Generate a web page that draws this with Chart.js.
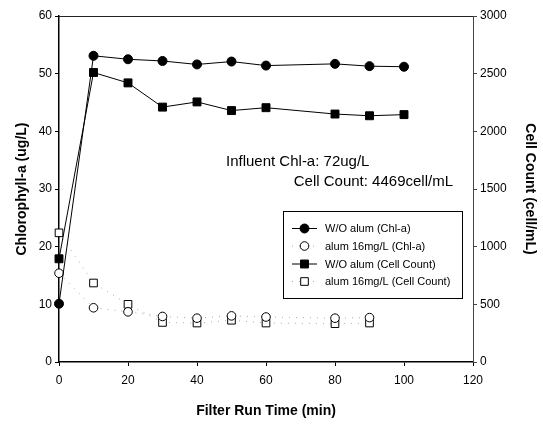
<!DOCTYPE html>
<html>
<head>
<meta charset="utf-8">
<script src="https://cdn.jsdelivr.net/npm/chart.js@4.4.1/dist/chart.umd.min.js"></script>
<style>
    html, body { margin: 0; padding: 0; background: #fff; }
    #wrap { width: 543px; height: 424px; position: relative; }
</style>
</head>
<body>
<div id="wrap"><canvas id="chart"></canvas></div>
<script>
// Filter run times (min)
const timesWithout = [0, 10, 20, 30, 40, 50, 60, 80, 90, 100];
const timesAlum = [0, 10, 20, 30, 40, 50, 60, 80, 90];

// Chlorophyll-a (ug/L), left axis
const chlWithout = [10.1, 53.1, 52.5, 52.2, 51.6, 52.1, 51.4, 51.7, 51.3, 51.2];
const chlAlum = [15.4, 9.4, 8.7, 7.9, 7.6, 8.0, 7.8, 7.6, 7.7];

// Cell count (cell/mL), right axis
const cellWithout = [895, 2510, 2420, 2210, 2255, 2180, 2205, 2150, 2135, 2145];
const cellAlum = [1120, 685, 500, 343, 338, 362, 338, 332, 338];

// Series labels
const seriesLabels = ['W/O alum (Chl-a)', 'alum 16mg/L (Chl-a)', 'W/O alum (Cell Count)', 'alum 16mg/L (Cell Count)'];

// Notes written in the plot
const notes = ['Influent Chl-a: 72ug/L', 'Cell Count: 4469cell/mL'];

const fontFamily = "'Liberation Sans', Arial, sans-serif";

/**
 * Pair x and y values into points
 */
function toPoints(xs, ys) {
    var pts = [];
    for (var i = 0; i < xs.length; ++i) {
        pts.push({ x: xs[i], y: ys[i] });
    }
    return pts;
}

// Frame top line, notes and legend box
const extrasPlugin = {
    id: 'extras',
    afterDraw(chart) {
        const ctx = chart.ctx;
        const area = chart.chartArea;
        ctx.save();

        // top border
        ctx.strokeStyle = '#222';
        ctx.lineWidth = 1;
        ctx.beginPath();
        ctx.moveTo(area.left, area.top + 0.5);
        ctx.lineTo(area.right, area.top + 0.5);
        ctx.stroke();

        // notes
        ctx.fillStyle = '#000';
        ctx.font = '15px ' + fontFamily;
        ctx.textBaseline = 'middle';
        ctx.textAlign = 'left';
        ctx.fillText(notes[0], 226, 162);
        ctx.textAlign = 'right';
        ctx.fillText(notes[1], 453, 182);

        // legend box
        const bx = 283.5, by = 211.5, bw = 179, bh = 87;
        ctx.fillStyle = '#fff';
        ctx.fillRect(bx, by, bw, bh);
        ctx.strokeStyle = '#000';
        ctx.lineWidth = 1;
        ctx.strokeRect(bx, by, bw, bh);

        const rowY = [228.5, 246, 264, 281.5];
        ctx.font = '11px ' + fontFamily;
        ctx.textAlign = 'left';
        for (var i = 0; i < chart.data.datasets.length; ++i) {
            const ds = chart.data.datasets[i];
            const y = rowY[i];
            ctx.save();
            ctx.strokeStyle = ds.borderColor;
            ctx.lineWidth = ds.borderWidth;
            ctx.setLineDash(ds.borderDash || []);
            ctx.beginPath();
            ctx.moveTo(292, y);
            ctx.lineTo(317, y);
            ctx.stroke();
            ctx.restore();
            ctx.save();
            ctx.setLineDash([]);
            ctx.fillStyle = ds.pointBackgroundColor;
            ctx.strokeStyle = ds.pointBorderColor;
            ctx.lineWidth = 1;
            Chart.helpers.drawPoint(ctx, {
                pointStyle: ds.pointStyle,
                radius: ds.pointRadius,
                rotation: 0,
                borderWidth: 1
            }, 304.5, y);
            ctx.restore();
            ctx.fillStyle = '#000';
            ctx.fillText(seriesLabels[i], 325, y + 0.5);
        }
        ctx.restore();
    }
};

const tickFont = { family: fontFamily, size: 12 };
const titleFont = { family: fontFamily, size: 14, weight: 'bold' };

const config = {
    type: 'line',
    data: {
        datasets: [{
            label: seriesLabels[0],
            data: toPoints(timesWithout, chlWithout),
            yAxisID: 'y',
            clip: false,
            borderColor: '#000',
            borderWidth: 1,
            pointStyle: 'circle',
            pointRadius: 4.5,
            pointBackgroundColor: '#000',
            pointBorderColor: '#000'
        }, {
            label: seriesLabels[1],
            data: toPoints(timesAlum, chlAlum),
            yAxisID: 'y',
            clip: false,
            borderColor: '#aaa',
            borderWidth: 1,
            borderDash: [1, 6],
            pointStyle: 'circle',
            pointRadius: 4.3,
            pointBackgroundColor: '#fff',
            pointBorderColor: '#000'
        }, {
            label: seriesLabels[2],
            data: toPoints(timesWithout, cellWithout),
            yAxisID: 'y1',
            clip: false,
            borderColor: '#000',
            borderWidth: 1,
            pointStyle: 'rect',
            pointRadius: 5.6,
            pointBackgroundColor: '#000',
            pointBorderColor: '#000'
        }, {
            label: seriesLabels[3],
            data: toPoints(timesAlum, cellAlum),
            yAxisID: 'y1',
            clip: false,
            borderColor: '#aaa',
            borderWidth: 1,
            borderDash: [1, 6],
            pointStyle: 'rect',
            pointRadius: 5.4,
            pointBackgroundColor: '#fff',
            pointBorderColor: '#000'
        }]
    },
    options: {
        responsive: true,
        maintainAspectRatio: false,
        animation: false,
        layout: { padding: { top: 16, left: 0, right: 0, bottom: 0 } },
        plugins: {
            legend: { display: false },
            tooltip: { enabled: false }
        },
        scales: {
            x: {
                type: 'linear',
                min: 0,
                max: 120,
                afterFit: (s) => { s.height = 62; },
                ticks: { stepSize: 20, color: '#000', font: tickFont, padding: 7, maxRotation: 0 },
                grid: { drawOnChartArea: false, tickLength: 4, color: '#000' },
                border: { color: '#000', width: 1.5 },
                title: { display: true, text: 'Filter Run Time (min)', color: '#000', font: titleFont, padding: { top: 0, bottom: 4 } }
            },
            y: {
                position: 'left',
                min: 0,
                max: 60,
                afterFit: (s) => { s.width = 59; },
                ticks: { stepSize: 10, color: '#000', font: tickFont, padding: 3 },
                grid: { drawOnChartArea: false, tickLength: 4, color: '#000' },
                border: { color: '#000', width: 1.5 },
                title: { display: true, text: 'Chlorophyll-a (ug/L)', color: '#000', font: titleFont, padding: { top: 14, bottom: 0 } }
            },
            y1: {
                position: 'right',
                min: 0,
                max: 3000,
                afterFit: (s) => { s.width = 70; },
                ticks: { stepSize: 500, color: '#000', font: tickFont, padding: 3, callback: (v) => String(v) },
                grid: { drawOnChartArea: false, tickLength: 4, color: '#444' },
                border: { color: '#444', width: 1 },
                title: { display: true, text: 'Cell Count (cell/mL)', color: '#000', font: titleFont, padding: { top: 5, bottom: 0 } }
            }
        }
    },
    plugins: [extrasPlugin]
};

new Chart(document.getElementById('chart'), config);
</script>
</body>
</html>
